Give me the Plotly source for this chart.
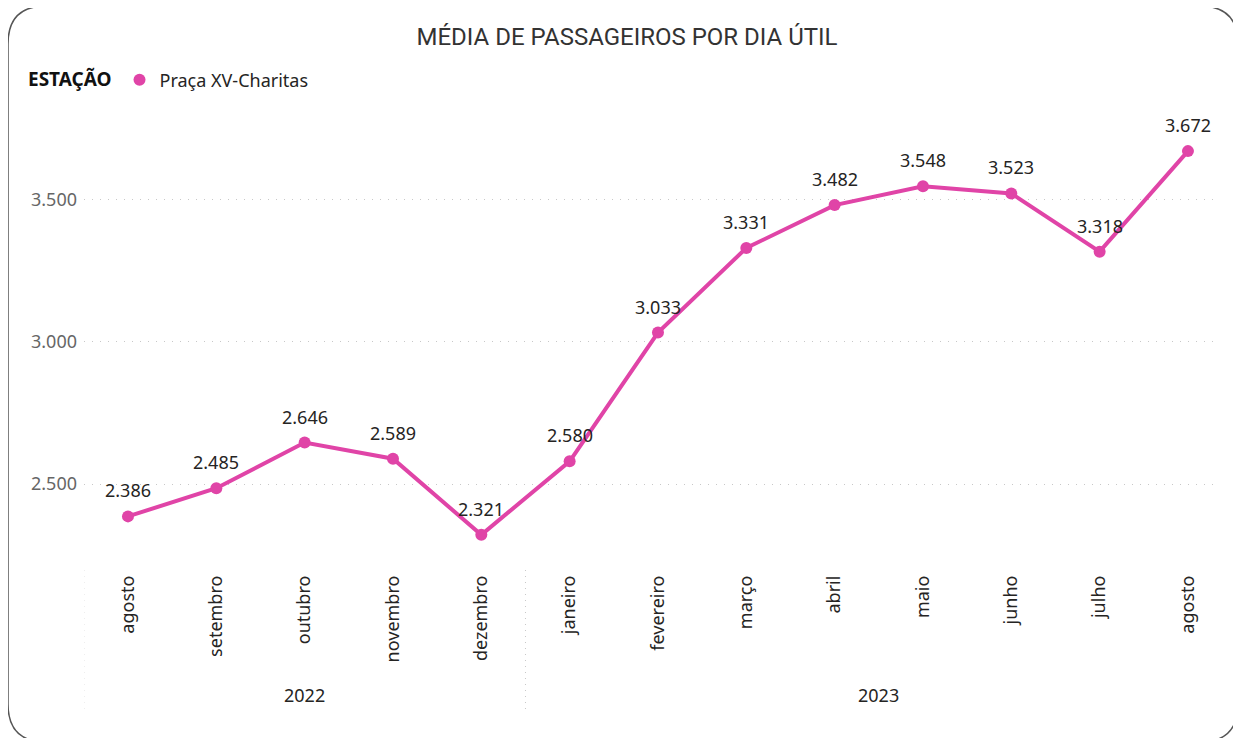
import plotly.graph_objects as go

# ---- data ----
months = ["agosto", "setembro", "outubro", "novembro", "dezembro",
          "janeiro", "fevereiro", "março", "abril", "maio", "junho", "julho", "agosto"]
years = ["2022", "2022", "2022", "2022", "2022",
         "2023", "2023", "2023", "2023", "2023", "2023", "2023", "2023"]
values = [2386, 2485, 2646, 2589, 2321, 2580, 3033, 3331, 3482, 3548, 3523, 3318, 3672]
series_name = "Praça XV-Charitas"
legend_title = "ESTAÇÃO"
chart_title = "MÉDIA DE PASSAGEIROS POR DIA ÚTIL"
y_ticks = [2500, 3000, 3500]

# ---- style ----
OFF = 8  # page body margin
W, H = 1241 - OFF, 738 - OFF
L = 84 - OFF
T = 100 - OFF
R = W - (1218 - OFF)
B = H - (565 - OFF)
PW, PH = W - L - R, H - T - B
COLOR = "#E044A7"
FONT = "Noto Sans"
TXT = "#252423"

x_idx = list(range(len(months)))
x_range = [-0.498, (1218 - 128) / 88.33]
y_range = [2214.8, 3852.0]


def px_x(p):
    return (p - OFF - L) / PW


def px_y(p):
    return (H - B - (p - OFF)) / PH


def fmt(v):
    return f"{v:,}".replace(",", ".")


fig = go.Figure()
fig.add_trace(go.Scatter(
    x=x_idx, y=values, mode="lines",
    line=dict(color=COLOR, width=4), showlegend=False, hoverinfo="skip"))
fig.add_trace(go.Scatter(
    x=x_idx, y=values, mode="markers", name=series_name,
    marker=dict(color=COLOR, size=12)))

annotations = []
shapes = []

# data labels
for i, v in zip(x_idx, values):
    annotations.append(dict(
        x=i, y=v, xref="x", yref="y", text=fmt(v), showarrow=False,
        yshift=26, yanchor="middle",
        font=dict(family=FONT, size=18, color=TXT)))

# year group labels and separators
groups = []
for i, yv in enumerate(years):
    if not groups or groups[-1][0] != yv:
        groups.append([yv, i, i])
    else:
        groups[-1][2] = i

for name, i0, i1 in groups:
    annotations.append(dict(
        x=(i0 + i1) / 2, xref="x", y=px_y(695), yref="paper",
        text=name, showarrow=False, yanchor="middle",
        font=dict(family=FONT, size=18, color=TXT)))
    shapes.append(dict(
        type="line", xref="x", yref="paper", x0=i0 - 0.5, x1=i0 - 0.5,
        y0=px_y(570), y1=px_y(712),
        line=dict(color="#c8c8c8", width=1, dash="1px,5px")))

# rounded card border
x0, x1, y0, y1, r = 8, 1238, 6, 742, 38
path = (f"M {px_x(x0 + r)},{px_y(y0)} L {px_x(x1 - r)},{px_y(y0)} "
        f"Q {px_x(x1)},{px_y(y0)} {px_x(x1)},{px_y(y0 + r)} "
        f"L {px_x(x1)},{px_y(y1 - r)} Q {px_x(x1)},{px_y(y1)} {px_x(x1 - r)},{px_y(y1)} "
        f"L {px_x(x0 + r)},{px_y(y1)} Q {px_x(x0)},{px_y(y1)} {px_x(x0)},{px_y(y1 - r)} "
        f"L {px_x(x0)},{px_y(y0 + r)} Q {px_x(x0)},{px_y(y0)} {px_x(x0 + r)},{px_y(y0)} Z")
shapes.append(dict(type="path", xref="paper", yref="paper", path=path,
                   line=dict(color="#555555", width=1.5), layer="below"))

fig.update_layout(
    width=W, height=H,
    margin=dict(l=L, r=R, t=T, b=B),
    paper_bgcolor="white", plot_bgcolor="white",
    separators=",.",
    font=dict(family=FONT, color=TXT),
    title=dict(text=chart_title, x=(627 - OFF) / W, xref="container", xanchor="center",
               y=1 - (37 - OFF) / H, yref="container", yanchor="middle",
               font=dict(family="Roboto", size=24, color="#333333")),
    showlegend=True,
    legend=dict(orientation="h", x=px_x(26), xanchor="left",
                y=px_y(80), yanchor="middle",
                title=dict(text=f"<b>{legend_title}</b>",
                           font=dict(family=FONT, size=19, color="#111111")),
                font=dict(family=FONT, size=18, color=TXT),
                itemwidth=30),
    xaxis=dict(range=x_range, tickmode="array", tickvals=x_idx, ticktext=months,
               tickangle=-90, showgrid=False, zeroline=False, showline=False,
               ticks="", ticklabelstandoff=6,
               tickfont=dict(family=FONT, size=18, color=TXT)),
    yaxis=dict(range=y_range, tickmode="array", tickvals=y_ticks, tickformat=",",
               showgrid=True, gridcolor="#c8c8c8", gridwidth=1, griddash="1px,7px",
               zeroline=False, showline=False, ticks="", ticklabelstandoff=6,
               tickfont=dict(family=FONT, size=18, color="#666666")),
    annotations=annotations, shapes=shapes,
)

fig.write_html("out.html")
